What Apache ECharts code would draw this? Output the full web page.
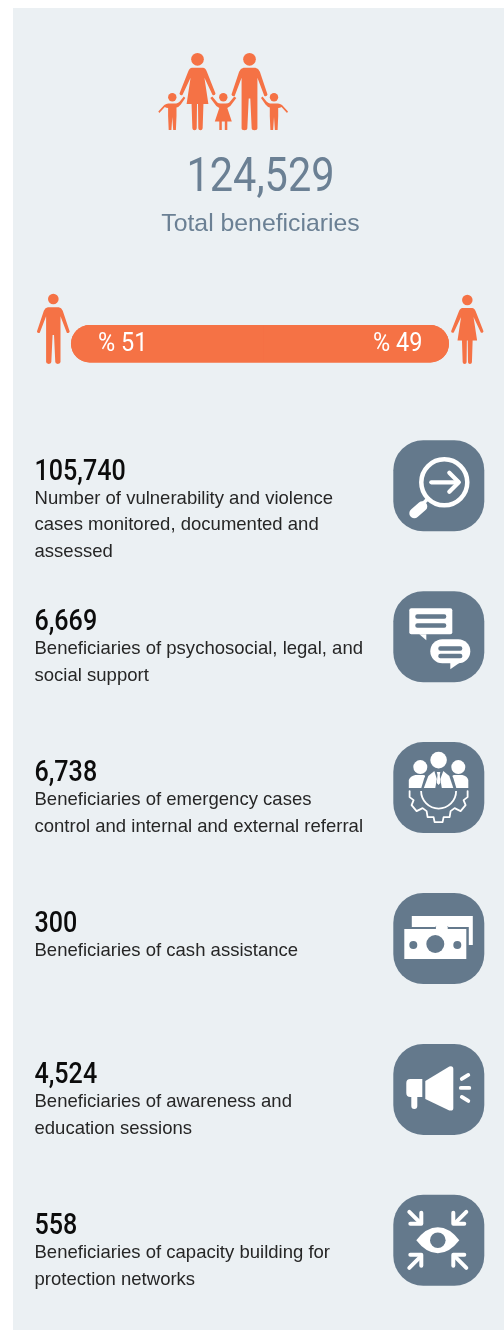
<!DOCTYPE html>
<html><head><meta charset="utf-8">
<style>html,body{margin:0;padding:0;background:#fff}#c{width:504px;height:1330px}</style>
<script src="https://cdn.jsdelivr.net/npm/echarts@6/dist/echarts.min.js"></script>
</head><body><div id="c"></div>
<script>
const totalValue = 124529;
const totalLabel = 'Total beneficiaries';
const genderLabels = ['Male', 'Female'];
const genderShares = [51, 49];
const itemValues = [105740, 6669, 6738, 300, 4524, 558];
const itemLines = [
  ['Number of vulnerability and violence', 'cases monitored, documented and', 'assessed'],
  ['Beneficiaries of psychosocial, legal, and', 'social support'],
  ['Beneficiaries of emergency cases', 'control and internal and external referral'],
  ['Beneficiaries of cash assistance'],
  ['Beneficiaries of awareness and', 'education sessions'],
  ['Beneficiaries of capacity building for', 'protection networks']
];

const ORANGE = '#f57245', SLATE = '#64798c', TITLE = '#6b8094', PANEL = '#ebf0f3', BLACK = '#0c0c0c', WHITE = '#fff';
const NARROW = 'Roboto', SANS = '"Liberation Sans"';
const fmt = n => n.toLocaleString('en-US');

let shapeId = 0;
function pathType(d) {
  const name = 'glyph' + (shapeId++);
  echarts.graphic.registerShape(name, echarts.graphic.extendPath(d, {}));
  return name;
}
const MAN = pathType('M-6,15 L6,15 Q9,15.5 10.5,19 L18.2,42 Q17.5,44.5 15,43.5 L8,25 L8,76 Q8,78 5,78 Q2.2,78 2.2,76 L0.8,46 L-0.8,46 L-2.2,76 Q-2.2,78 -5,78 Q-8,78 -8,76 L-8,25 L-15,43.5 Q-17.5,44.5 -18.2,42 L-10.5,19 Q-9,15.5 -6,15Z');
const WOMAN = pathType('M-5.5,15 L5.5,15 Q8,15 9.5,19 L18.2,41 Q17.8,43.5 15.2,42.5 L7,25 L11,51.5 L6,51.5 L5.2,76 Q5,78 3,78 Q0.9,78 0.8,76 L0.5,51.5 L-0.5,51.5 L-0.8,76 Q-0.9,78 -3,78 Q-5,78 -5.2,76 L-6,51.5 L-11,51.5 L-7,25 L-15.2,42.5 Q-17.8,43.5 -18.2,41 L-9.5,19 Q-8,15 -5.5,15Z');
const BOY = pathType('M-4,10.5 L4,10.5 Q6,10 7.5,8.5 L11.5,3.5 L13,5 L8.5,11.5 Q6.5,14 4.2,14.5 L4.2,23 L3.6,37 L0.9,37 L0,24 L-0.9,37 L-3.6,37 L-4.2,23 L-4.2,15 Q-6,15 -7.5,14 L-13,20 L-14,18.5 L-8,12 Q-6,10.5 -4,10.5Z');
const GIRL = pathType('M-2.5,10.5 L2.5,10.5 Q5,10.5 6,9.5 L11,3.5 L13,5 L7,13 L4,15 L8.5,28.5 L4,28.5 L4,37 L1.5,37 L1.5,28.5 L-1.5,28.5 L-1.5,37 L-4,37 L-4,28.5 L-8.5,28.5 L-4,15 L-7,13 L-13,5 L-11,3.5 L-6,9.5 Q-5,10.5 -2.5,10.5Z');

function figure(x, y, s, type, headR, headY, flip) {
  return { type: 'group', x, y, scaleX: flip ? -s : s, scaleY: s, z: 5, children: [
    { type: 'circle', shape: { cx: 0, cy: headY, r: headR }, style: { fill: ORANGE } , z: 5},
    { type, shape: {}, style: { fill: ORANGE }, z: 5 }
  ]};
}
const BASELINE = 0.8;
function txt(text, x, y, size, fill, family, sx, align, weight) {
  return { type: 'text', x, y: y - BASELINE * size, scaleX: sx || 1, z: 10, style: {
    text, x: 0, y: 0, fill, font: `${weight || 'normal'} ${size}px ${family}`,
    textAlign: align || 'left' } };
}
const S = { stroke: WHITE, lineCap: 'round', lineJoin: 'round', fill: null };
const line = (pts, w, color) => ({ type: 'polyline', z: 7, shape: { points: pts }, style: { ...S, lineWidth: w, stroke: color || WHITE } });
const rect = (x, y, w, h, r, fill) => ({ type: 'rect', z: 7, shape: { x, y, width: w, height: h, r: r || 0 }, style: { fill: fill || WHITE } });
const circ = (cx, cy, r, fill) => ({ type: 'circle', z: 7, shape: { cx, cy, r }, style: { fill: fill || WHITE } });
const poly = (pts, fill) => ({ type: 'polygon', z: 7, shape: { points: pts }, style: { fill: fill || WHITE } });
const pathW = d => ({ type: pathType(d), z: 7, shape: {}, style: { fill: WHITE } });

const cx3 = 45.3;
const gearRight = [[29,49],[29,55],[25,58],[27,63],[22,69],[16,66],[12,69],[11,75],[5,75],[4,80],[-4,80],[-5,75],[-11,75],[-12,69],[-16,66],[-22,69],[-27,63],[-25,58],[-29,55],[-29,49]].map(p => [cx3 + p[0], p[1]]);

const ICONS = [
  [ { type:'circle', z:7, shape:{cx:51,cy:42,r:23}, style:{fill:null,stroke:WHITE,lineWidth:4.5} },
    line([[38,42],[65,42]],4.2), line([[56,32.5],[65.5,42],[56,51.5]],4.2),
    line([[21,73],[29,66]],10), line([[30,63],[35,58]],3.5) ],
  [ rect(16,17,43,26,2), poly([[26,43],[33,43],[33,49]]),
    rect(22,23,31,4.5,2,SLATE), rect(22,32,31,4.5,2,SLATE),
    rect(37,48,40,24,12), poly([[57,71],[67,71],[57,78]]),
    rect(45,55,24,4.5,2,SLATE), rect(45,62.5,24,4.5,2,SLATE) ],
  [ circ(45.3,18,8.3), circ(27,25,7), circ(65,25,7),
    pathW('M15.5,46 L15.5,38 Q17,34 22,33 L30,33 Q33,33 31,36 L28,46Z'),
    pathW('M75,46 L75,38 Q74,34 69,33 L61,33 Q58,33 60,36 L63,46Z'),
    poly([[30.5,46],[35,34],[41,29],[43.5,37],[42,46]]), poly([[60,46],[56,34],[50,29],[47,37],[48.5,46]]),
    poly([[43.5,30],[47,30],[46.5,33],[47,41],[45.2,43],[43.5,41],[44.2,33]]),
    line(gearRight,1.8),
    { type:'arc', z:7, shape:{cx:45.3,cy:49,r:17.5,startAngle:0,endAngle:Math.PI,clockwise:true}, style:{fill:null,stroke:WHITE,lineWidth:1.8} } ],
  [ rect(18.5,23,61,29), circ(48.5,39,8,SLATE), circ(48.5,39.5,5.5),
    rect(9,34,66.5,34,0,SLATE), circ(48.5,35,6,WHITE), rect(11,36,62,30), 
    circ(42,51,9,SLATE), circ(20,52,4,SLATE), circ(64,52,4,SLATE) ],
  [ pathW('M32,37 L56,22.5 Q60,21.5 60,25 L60,64 Q60,67.5 56,66.5 L32,55Z'),
    pathW('M29,35 L17,35 Q13,35 13,39 L13,49 Q13,53 17,53 L18,53 L18,62 Q18,65 21,65 Q24,65 24,62 L24,53 L29,53Z'),
    line([[68.5,35],[75,31]],3.8), line([[67.5,44],[76,44]],3.8), line([[68.5,53],[75,57]],3.8) ],
  [ pathW('M23,45.5 Q33,32.5 44.5,32.5 Q56,32.5 66,45.5 Q56,58.5 44.5,58.5 Q33,58.5 23,45.5Z'), circ(44.5,45.5,7.8,SLATE),
    line([[16,17],[27,28]],4), line([[28,18],[28,29],[17,29]],4),
    line([[73,17],[62,28]],4), line([[60,18],[60,29],[71,29]],4),
    line([[16,73],[27,62]],4), line([[28,71],[28,60],[17,60]],4),
    line([[73,73],[62,62]],4), line([[60,71],[60,60],[71,60]],4) ]
];

const elements = [
  { type:'rect', z:-1, shape:{x:13,y:8,width:491,height:1322}, style:{fill:PANEL} },
  figure(197.5,53,0.99,WOMAN,6.4,6.4),
  figure(249.5,53,0.99,MAN,6.4,6.4),
  figure(172.3,93,1,BOY,4.2,4.2),
  figure(274,93,1,BOY,4.2,4.2,true),
  figure(223.3,93,1,GIRL,4.2,4.2),
  figure(53.3,293.7,0.9,MAN,5.9,5.9),
  figure(467.3,294.7,0.89,WOMAN,5.9,5.9),
  txt(fmt(totalValue),260.5,193,48.5,TITLE,NARROW,0.855,'center'),
  txt(totalLabel,260.5,232,24.8,TITLE,SANS,1,'center'),
  txt('% '+genderShares[0],98,352,25.5,WHITE,NARROW,0.92),
  txt('% '+genderShares[1],373,352,25.5,WHITE,NARROW,0.92)
];

const ROW_STEP = 150.9;
itemValues.forEach((v,i) => {
  const dy = i*ROW_STEP;
  elements.push(txt(fmt(v),34.5,481+dy,29,BLACK,NARROW,0.865,'left',500));
  itemLines[i].forEach((t,j) => elements.push(txt(t,34.5,504+dy+j*26.8,19,'#262626',SANS,0.975)));
  elements.push({ type:'group', x:393.3, y:440.3+dy, z:6, children:[
    { type:'rect', z:6, shape:{x:0,y:0,width:91,height:91,r:30}, style:{fill:SLATE} },
    ...ICONS[i]
  ]});
});

const chart = echarts.init(document.getElementById('c'), null, { renderer:'canvas' });
chart.setOption({
  animation:false,
  backgroundColor:'#fff',
  grid:{ left:71, top:325, width:378, height:37.5 },
  xAxis:{ type:'value', min:0, max:100, show:false },
  yAxis:{ type:'category', data:['Gender'], show:false },
  series:[
    { name:genderLabels[0], type:'bar', stack:'g', barWidth:37.5, data:[genderShares[0]],
      showBackground:true, backgroundStyle:{ color:ORANGE, borderRadius:19 },
      itemStyle:{ color:ORANGE, borderRadius:[19,0,0,19] } },
    { name:genderLabels[1], type:'bar', stack:'g', barWidth:37.5, data:[genderShares[1]], itemStyle:{ color:ORANGE, borderRadius:[0,19,19,0] } }
  ],
  graphic:{ elements }
});
</script></body></html>
